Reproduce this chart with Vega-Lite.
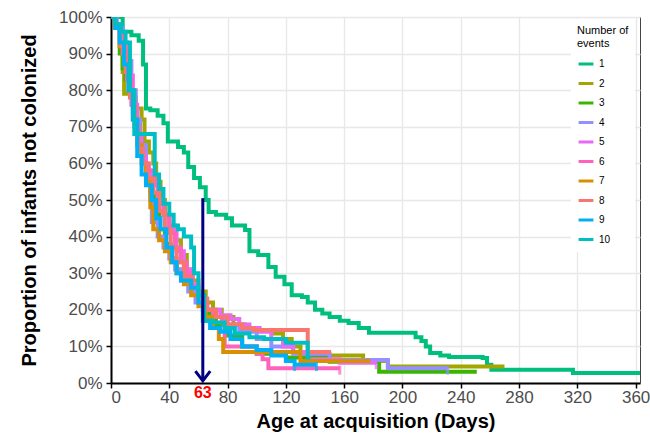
{
  "$schema": "https://vega.github.io/schema/vega-lite/v6.json",
  "width": 529,
  "height": 366,
  "autosize": {"type": "none"},
  "padding": {"left": 111, "top": 17, "right": 10, "bottom": 54},
  "background": "white",
  "config": {
    "font": "Liberation Sans",
    "view": {"stroke": "#444444", "strokeWidth": 1},
    "axis": {"gridColor": "#e8e8e8", "gridWidth": 1.4, "domainColor": "black", "domainWidth": 2, "tickColor": "black", "tickWidth": 1.5, "tickSize": 5, "labelFontSize": 17, "labelColor": "#4d4d4d", "labelOverlap": false, "titleFontSize": 20, "titleFontWeight": "bold", "titleColor": "black"}
  },
  "datasets": {
    "km": [
      {"s":1,"d":0,"p":1},{"s":1,"d":8,"p":0.96},{"s":1,"d":14,"p":0.95},{"s":1,"d":19,"p":0.935},{"s":1,"d":22,"p":0.87},{"s":1,"d":24,"p":0.75},{"s":1,"d":27,"p":0.745},{"s":1,"d":32,"p":0.73},{"s":1,"d":36,"p":0.71},{"s":1,"d":39,"p":0.66},{"s":1,"d":46,"p":0.645},{"s":1,"d":50,"p":0.63},{"s":1,"d":53,"p":0.59},{"s":1,"d":57,"p":0.56},{"s":1,"d":61,"p":0.535},{"s":1,"d":65,"p":0.5},{"s":1,"d":67,"p":0.467},{"s":1,"d":72,"p":0.46},{"s":1,"d":79,"p":0.45},{"s":1,"d":83,"p":0.43},{"s":1,"d":92,"p":0.418},{"s":1,"d":95,"p":0.36},{"s":1,"d":101,"p":0.35},{"s":1,"d":108,"p":0.317},{"s":1,"d":113,"p":0.29},{"s":1,"d":119,"p":0.27},{"s":1,"d":124,"p":0.24},{"s":1,"d":131,"p":0.235},{"s":1,"d":135,"p":0.22},{"s":1,"d":140,"p":0.2},{"s":1,"d":145,"p":0.19},{"s":1,"d":150,"p":0.18},{"s":1,"d":157,"p":0.17},{"s":1,"d":163,"p":0.164},{"s":1,"d":170,"p":0.15},{"s":1,"d":177,"p":0.137},{"s":1,"d":205,"p":0.137},{"s":1,"d":209,"p":0.125},{"s":1,"d":213,"p":0.115},{"s":1,"d":216,"p":0.1},{"s":1,"d":219,"p":0.082},{"s":1,"d":226,"p":0.075},{"s":1,"d":232,"p":0.071},{"s":1,"d":255,"p":0.068},{"s":1,"d":258,"p":0.05},{"s":1,"d":261,"p":0.036},{"s":1,"d":315,"p":0.036},{"s":1,"d":317,"p":0.027},{"s":1,"d":363,"p":0.027},

      {"s":2,"d":0,"p":1},{"s":2,"d":3,"p":0.98},{"s":2,"d":6,"p":0.92},{"s":2,"d":8,"p":0.85},{"s":2,"d":9,"p":0.79},{"s":2,"d":15,"p":0.78},{"s":2,"d":17,"p":0.75},{"s":2,"d":21,"p":0.72},{"s":2,"d":23,"p":0.66},{"s":2,"d":26,"p":0.63},{"s":2,"d":29,"p":0.6},{"s":2,"d":31,"p":0.55},{"s":2,"d":34,"p":0.5},{"s":2,"d":37,"p":0.46},{"s":2,"d":40,"p":0.43},{"s":2,"d":44,"p":0.39},{"s":2,"d":48,"p":0.35},{"s":2,"d":52,"p":0.31},{"s":2,"d":56,"p":0.28},{"s":2,"d":60,"p":0.25},{"s":2,"d":65,"p":0.22},{"s":2,"d":70,"p":0.2},{"s":2,"d":76,"p":0.18},{"s":2,"d":84,"p":0.16},{"s":2,"d":92,"p":0.145},{"s":2,"d":112,"p":0.135},{"s":2,"d":118,"p":0.12},{"s":2,"d":124,"p":0.1},{"s":2,"d":130,"p":0.08},{"s":2,"d":140,"p":0.075},{"s":2,"d":173,"p":0.06},{"s":2,"d":190,"p":0.045},{"s":2,"d":270,"p":0.045},

      {"s":3,"d":0,"p":1},{"s":3,"d":3,"p":0.97},{"s":3,"d":6,"p":0.9},{"s":3,"d":8,"p":0.86},{"s":3,"d":10,"p":0.83},{"s":3,"d":13,"p":0.8},{"s":3,"d":15,"p":0.74},{"s":3,"d":18,"p":0.68},{"s":3,"d":21,"p":0.63},{"s":3,"d":24,"p":0.58},{"s":3,"d":27,"p":0.52},{"s":3,"d":30,"p":0.47},{"s":3,"d":33,"p":0.42},{"s":3,"d":37,"p":0.38},{"s":3,"d":41,"p":0.34},{"s":3,"d":45,"p":0.31},{"s":3,"d":50,"p":0.28},{"s":3,"d":55,"p":0.25},{"s":3,"d":60,"p":0.22},{"s":3,"d":65,"p":0.19},{"s":3,"d":72,"p":0.16},{"s":3,"d":80,"p":0.13},{"s":3,"d":90,"p":0.1},{"s":3,"d":100,"p":0.08},{"s":3,"d":120,"p":0.07},{"s":3,"d":150,"p":0.058},{"s":3,"d":184,"p":0.031},{"s":3,"d":251,"p":0.031},

      {"s":4,"d":0,"p":1},{"s":4,"d":4,"p":0.97},{"s":4,"d":8,"p":0.93},{"s":4,"d":11,"p":0.88},{"s":4,"d":14,"p":0.8},{"s":4,"d":17,"p":0.72},{"s":4,"d":20,"p":0.65},{"s":4,"d":24,"p":0.58},{"s":4,"d":27,"p":0.5},{"s":4,"d":28,"p":0.44},{"s":4,"d":32,"p":0.4},{"s":4,"d":36,"p":0.37},{"s":4,"d":40,"p":0.34},{"s":4,"d":44,"p":0.31},{"s":4,"d":48,"p":0.28},{"s":4,"d":53,"p":0.25},{"s":4,"d":58,"p":0.22},{"s":4,"d":63,"p":0.2},{"s":4,"d":70,"p":0.18},{"s":4,"d":78,"p":0.16},{"s":4,"d":88,"p":0.14},{"s":4,"d":100,"p":0.12},{"s":4,"d":110,"p":0.1},{"s":4,"d":125,"p":0.08},{"s":4,"d":150,"p":0.063},{"s":4,"d":190,"p":0.04},{"s":4,"d":231,"p":0.04},

      {"s":5,"d":0,"p":1},{"s":5,"d":3,"p":0.97},{"s":5,"d":6,"p":0.93},{"s":5,"d":9,"p":0.9},{"s":5,"d":12,"p":0.84},{"s":5,"d":15,"p":0.76},{"s":5,"d":18,"p":0.68},{"s":5,"d":21,"p":0.62},{"s":5,"d":24,"p":0.58},{"s":5,"d":28,"p":0.55},{"s":5,"d":32,"p":0.5},{"s":5,"d":36,"p":0.46},{"s":5,"d":40,"p":0.42},{"s":5,"d":45,"p":0.36},{"s":5,"d":50,"p":0.31},{"s":5,"d":55,"p":0.27},{"s":5,"d":60,"p":0.23},{"s":5,"d":66,"p":0.2},{"s":5,"d":75,"p":0.185},{"s":5,"d":82,"p":0.175},{"s":5,"d":88,"p":0.16},{"s":5,"d":95,"p":0.15},{"s":5,"d":102,"p":0.14},{"s":5,"d":110,"p":0.12},{"s":5,"d":118,"p":0.1},{"s":5,"d":125,"p":0.085},{"s":5,"d":135,"p":0.065},{"s":5,"d":157,"p":0.055},{"s":5,"d":182,"p":0.055},

      {"s":6,"d":0,"p":1},{"s":6,"d":3,"p":0.98},{"s":6,"d":6,"p":0.95},{"s":6,"d":8,"p":0.9},{"s":6,"d":11,"p":0.83},{"s":6,"d":14,"p":0.76},{"s":6,"d":17,"p":0.7},{"s":6,"d":19,"p":0.64},{"s":6,"d":22,"p":0.6},{"s":6,"d":26,"p":0.58},{"s":6,"d":30,"p":0.54},{"s":6,"d":33,"p":0.49},{"s":6,"d":36,"p":0.46},{"s":6,"d":40,"p":0.41},{"s":6,"d":44,"p":0.37},{"s":6,"d":48,"p":0.33},{"s":6,"d":52,"p":0.3},{"s":6,"d":56,"p":0.26},{"s":6,"d":60,"p":0.22},{"s":6,"d":64,"p":0.2},{"s":6,"d":70,"p":0.18},{"s":6,"d":76,"p":0.165},{"s":6,"d":78,"p":0.1},{"s":6,"d":97,"p":0.1},{"s":6,"d":100,"p":0.08},{"s":6,"d":104,"p":0.065},{"s":6,"d":108,"p":0.04},{"s":6,"d":157,"p":0.04},

      {"s":7,"d":0,"p":1},{"s":7,"d":3,"p":0.97},{"s":7,"d":6,"p":0.92},{"s":7,"d":9,"p":0.87},{"s":7,"d":12,"p":0.8},{"s":7,"d":15,"p":0.72},{"s":7,"d":18,"p":0.65},{"s":7,"d":21,"p":0.6},{"s":7,"d":24,"p":0.55},{"s":7,"d":27,"p":0.48},{"s":7,"d":29,"p":0.42},{"s":7,"d":33,"p":0.39},{"s":7,"d":37,"p":0.36},{"s":7,"d":41,"p":0.33},{"s":7,"d":45,"p":0.3},{"s":7,"d":50,"p":0.27},{"s":7,"d":55,"p":0.24},{"s":7,"d":60,"p":0.21},{"s":7,"d":65,"p":0.18},{"s":7,"d":70,"p":0.15},{"s":7,"d":74,"p":0.12},{"s":7,"d":77,"p":0.085},{"s":7,"d":125,"p":0.085},{"s":7,"d":130,"p":0.06},{"s":7,"d":178,"p":0.06},

      {"s":8,"d":0,"p":1},{"s":8,"d":3,"p":0.97},{"s":8,"d":7,"p":0.92},{"s":8,"d":10,"p":0.85},{"s":8,"d":13,"p":0.78},{"s":8,"d":16,"p":0.7},{"s":8,"d":19,"p":0.64},{"s":8,"d":22,"p":0.6},{"s":8,"d":25,"p":0.56},{"s":8,"d":29,"p":0.52},{"s":8,"d":33,"p":0.47},{"s":8,"d":37,"p":0.42},{"s":8,"d":41,"p":0.37},{"s":8,"d":45,"p":0.33},{"s":8,"d":50,"p":0.29},{"s":8,"d":55,"p":0.26},{"s":8,"d":60,"p":0.23},{"s":8,"d":66,"p":0.2},{"s":8,"d":72,"p":0.18},{"s":8,"d":80,"p":0.16},{"s":8,"d":90,"p":0.15},{"s":8,"d":98,"p":0.145},{"s":8,"d":135,"p":0.085},{"s":8,"d":151,"p":0.085},

      {"s":9,"d":0,"p":1},{"s":9,"d":3,"p":0.97},{"s":9,"d":6,"p":0.93},{"s":9,"d":9,"p":0.87},{"s":9,"d":12,"p":0.8},{"s":9,"d":15,"p":0.72},{"s":9,"d":18,"p":0.62},{"s":9,"d":21,"p":0.57},{"s":9,"d":24,"p":0.54},{"s":9,"d":28,"p":0.5},{"s":9,"d":31,"p":0.45},{"s":9,"d":34,"p":0.42},{"s":9,"d":38,"p":0.37},{"s":9,"d":42,"p":0.33},{"s":9,"d":45,"p":0.3},{"s":9,"d":48,"p":0.28},{"s":9,"d":55,"p":0.26},{"s":9,"d":60,"p":0.22},{"s":9,"d":63,"p":0.17},{"s":9,"d":68,"p":0.15},{"s":9,"d":75,"p":0.14},{"s":9,"d":82,"p":0.12},{"s":9,"d":90,"p":0.1},{"s":9,"d":100,"p":0.09},{"s":9,"d":110,"p":0.075},{"s":9,"d":120,"p":0.06},{"s":9,"d":126,"p":0.05},{"s":9,"d":141,"p":0.05},

      {"s":10,"d":0,"p":1},{"s":10,"d":3,"p":0.98},{"s":10,"d":7,"p":0.96},{"s":10,"d":10,"p":0.93},{"s":10,"d":13,"p":0.8},{"s":10,"d":16,"p":0.68},{"s":10,"d":29,"p":0.68},{"s":10,"d":30,"p":0.57},{"s":10,"d":33,"p":0.53},{"s":10,"d":36,"p":0.49},{"s":10,"d":40,"p":0.46},{"s":10,"d":43,"p":0.43},{"s":10,"d":46,"p":0.42},{"s":10,"d":50,"p":0.4},{"s":10,"d":55,"p":0.37},{"s":10,"d":57,"p":0.3},{"s":10,"d":60,"p":0.24},{"s":10,"d":64,"p":0.17},{"s":10,"d":70,"p":0.165},{"s":10,"d":78,"p":0.15},{"s":10,"d":85,"p":0.135},{"s":10,"d":95,"p":0.125},{"s":10,"d":105,"p":0.12},{"s":10,"d":120,"p":0.11},{"s":10,"d":131,"p":0.11},{"s":10,"d":135,"p":0.07},{"s":10,"d":137,"p":0.07}
    ],
    "censor": [
      {"s":9,"d":126,"p":0.045},{"s":9,"d":141,"p":0.045},{"s":6,"d":157,"p":0.035},{"s":5,"d":182,"p":0.05},{"s":4,"d":231,"p":0.035}
    ],
    "arrow": [{"d":63,"p":0.505,"bot":0.006}],
    "head": [{"d":63,"p":0.006}],
    "lab": [{"d":63,"p":0,"label":"63"}]
  },
  "encoding": {
    "x": {"field": "d", "type": "quantitative", "scale": {"domain": [0, 363], "nice": false, "zero": true},
      "axis": {"values": [0,40,80,120,160,200,240,280,320,360], "title": "Age at acquisition (Days)", "labelPadding": 1, "titlePadding": 6}},
    "y": {"field": "p", "type": "quantitative", "scale": {"domain": [0, 1], "nice": false},
      "axis": {"values": [0,0.1,0.2,0.3,0.4,0.5,0.6,0.7,0.8,0.9,1], "format": ".0%", "title": "Proportion of infants not colonized", "labelPadding": 4, "titlePadding": 19}}
  },
  "layer": [
    {
      "data": {"name": "km"},
      "mark": {"type": "line", "interpolate": "step-after", "strokeWidth": 4, "clip": true},
      "encoding": {
        "color": {"field": "s", "type": "ordinal",
          "scale": {"domain": [1,2,3,4,5,6,7,8,9,10], "range": ["#00BF7D","#A3A500","#39B600","#9590FF","#E76BF3","#FF62BC","#D89000","#F8766D","#00B0F6","#00BFC4"]},
          "legend": {"title": ["Number of", " events"], "orient": "none", "legendX": 460, "legendY": 2, "fillColor": "white", "padding": 6,
            "titleFontSize": 11, "titleFontWeight": "normal", "titleColor": "black", "titleLineHeight": 13, "titlePadding": 6,
            "labelFontSize": 10, "labelColor": "black", "symbolType": "stroke", "symbolStrokeWidth": 3, "symbolSize": 220, "rowPadding": 4.5, "labelOffset": 4}},
        "order": {"field": "d", "type": "quantitative"}
      }
    },
    {
      "data": {"name": "censor"},
      "mark": {"type": "tick", "orient": "vertical", "size": 9, "thickness": 3},
      "encoding": {
        "color": {"field": "s", "type": "ordinal", "legend": null}
      }
    },
    {
      "data": {"name": "arrow"},
      "mark": {"type": "rule", "color": "#000080", "strokeWidth": 3},
      "encoding": {
        "y2": {"field": "bot"}
      }
    },
    {
      "data": {"name": "head"},
      "mark": {"type": "point", "shape": "M-1,-1.3L0,0L1,-1.3", "filled": false, "stroke": "#000080", "strokeWidth": 3, "size": 220, "opacity": 1}
    },
    {
      "data": {"name": "lab"},
      "mark": {"type": "text", "color": "#ff0000", "fontSize": 16, "fontWeight": "bold", "baseline": "middle", "dy": 10, "font": "Liberation Sans"},
      "encoding": {
        "text": {"field": "label"}
      }
    }
  ]
}
